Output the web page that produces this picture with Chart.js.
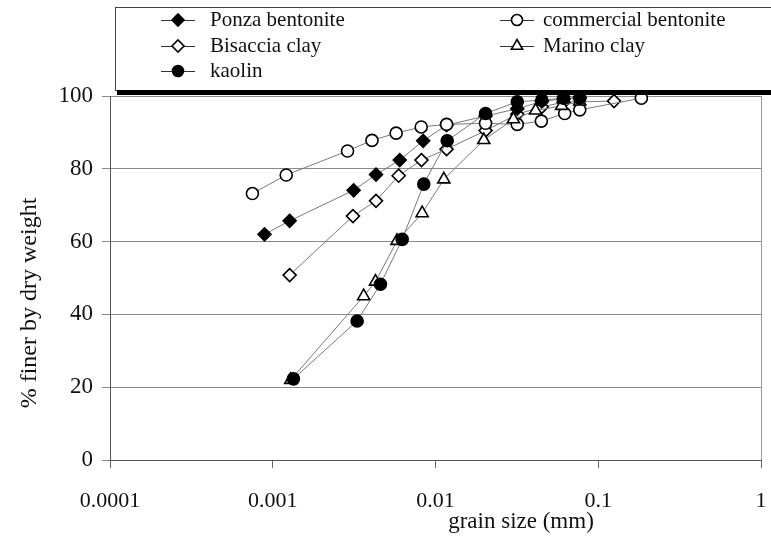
<!DOCTYPE html>
<html>
<head>
<meta charset="utf-8">
<script src="https://cdn.jsdelivr.net/npm/chart.js@4.4.1/dist/chart.umd.min.js"></script>
<style>
  html, body { margin: 0; padding: 0; background: #ffffff; }
  #wrap { width: 771px; height: 542px; }
</style>
</head>
<body>
<div id="wrap"><canvas id="psdChart" width="771" height="542"></canvas></div>
<script>
// grain size distributions (grain size in mm, % finer by dry weight)
const ponzaSize = [0.00089, 0.00127, 0.00314, 0.00431, 0.00603, 0.0084, 0.0117, 0.0203, 0.0318, 0.045, 0.0612, 0.077];
const ponzaFiner = [62.0, 65.7, 74.1, 78.4, 82.4, 87.7, 92.0, 94.5, 96.5, 98.5, 99.2, 99.5];

const commercialSize = [0.00075, 0.00121, 0.00288, 0.00407, 0.00573, 0.00817, 0.0117, 0.0203, 0.0318, 0.0447, 0.0622, 0.077, 0.184];
const commercialFiner = [73.2, 78.3, 84.9, 87.8, 89.8, 91.5, 92.2, 92.5, 92.2, 93.1, 95.2, 96.2, 99.4];

const bisacciaSize = [0.00127, 0.00311, 0.00431, 0.00594, 0.0082, 0.0117, 0.0203, 0.0318, 0.045, 0.0612, 0.125];
const bisacciaFiner = [50.8, 67.0, 71.2, 78.1, 82.4, 85.4, 90.5, 95.0, 97.0, 98.3, 98.6];

const marinoSize = [0.00129, 0.00362, 0.00428, 0.0058, 0.00828, 0.01125, 0.0198, 0.0301, 0.0412, 0.0596, 0.077];
const marinoFiner = [22.0, 45.0, 49.0, 60.2, 67.8, 77.1, 87.9, 93.6, 96.0, 97.3, 98.5];

const kaolinSize = [0.00134, 0.0033, 0.00459, 0.00624, 0.00847, 0.0118, 0.0203, 0.0318, 0.045, 0.0612, 0.077];
const kaolinFiner = [22.3, 38.2, 48.3, 60.6, 75.8, 87.7, 95.2, 98.4, 98.9, 99.4, 99.4];

const xTicks = [0.0001, 0.001, 0.01, 0.1, 1];
const xTickLabels = ["0.0001", "0.001", "0.01", "0.1", "1"];
const yTicks = [0, 20, 40, 60, 80, 100];

const serif = "'Liberation Serif', 'Times New Roman', serif";

function toPoints(xs, ys) {
    return xs.map((x, i) => ({ x: x, y: ys[i] }));
}

function markerRadius(style) {
    if (style === "rectRot") return 6.5;
    if (style === "triangle") return 7;
    return 6;
}

function series(label, xs, ys, style, fill, order) {
    return {
        label: label,
        data: toPoints(xs, ys),
        showLine: true,
        borderColor: "#7a7a7a",
        borderWidth: 1,
        pointStyle: style,
        pointRadius: markerRadius(style),
        pointBackgroundColor: fill,
        pointBorderColor: "#000000",
        pointBorderWidth: 1.6,
        clip: false,
        order: order
    };
}

const datasets = [
    series("Ponza bentonite", ponzaSize, ponzaFiner, "rectRot", "#000000", 4),
    series("commercial bentonite", commercialSize, commercialFiner, "circle", "#ffffff", 3),
    series("Bisaccia clay", bisacciaSize, bisacciaFiner, "rectRot", "#ffffff", 5),
    series("Marino clay", marinoSize, marinoFiner, "triangle", "#ffffff", 2),
    series("kaolin", kaolinSize, kaolinFiner, "circle", "#000000", 1)
];

// legend box above the plot plus the two axis titles
const decorations = {
    id: "decorations",
    afterDraw(chart) {
        const ctx = chart.ctx;
        ctx.save();

        // legend frame with heavy bottom edge
        ctx.fillStyle = "#ffffff";
        ctx.fillRect(115, 7, 660, 83);
        ctx.strokeStyle = "#444444";
        ctx.lineWidth = 1;
        ctx.strokeRect(115.5, 7.5, 660, 83);
        ctx.fillStyle = "#000000";
        ctx.fillRect(117, 90, 660, 5);

        // marker x, row y, text x
        const slots = [
            [178, 20, 210], [517, 20, 543],
            [178, 46, 210], [517, 46, 543],
            [178, 71, 210]
        ];
        ctx.font = "21px " + serif;
        ctx.textBaseline = "middle";
        ctx.textAlign = "left";
        datasets.forEach((ds, i) => {
            const [cx, cy, tx] = slots[i];
            ctx.strokeStyle = "#333333";
            ctx.lineWidth = 1;
            ctx.beginPath();
            ctx.moveTo(cx - 17, cy + 0.5);
            ctx.lineTo(cx + 17, cy + 0.5);
            ctx.stroke();
            ctx.fillStyle = ds.pointBackgroundColor;
            ctx.strokeStyle = "#000000";
            ctx.lineWidth = 1.6;
            Chart.helpers.drawPoint(ctx, {
                pointStyle: ds.pointStyle,
                rotation: 0,
                radius: ds.pointRadius - 0.5,
                borderWidth: 1.6
            }, cx, cy);
            ctx.fillStyle = "#111111";
            ctx.fillText(ds.label, tx, cy);
        });

        // axis titles
        ctx.fillStyle = "#111111";
        ctx.font = "23px " + serif;
        ctx.textAlign = "center";
        ctx.fillText("grain size (mm)", 521, 522);
        ctx.font = "24px " + serif;
        ctx.translate(30, 303);
        ctx.rotate(-Math.PI / 2);
        ctx.fillText("% finer by dry weight", 0, 0);
        ctx.restore();
    },
    beforeDatasetsDraw(chart) {
        // thin frame on the right side of the plot
        const a = chart.chartArea;
        const ctx = chart.ctx;
        ctx.save();
        ctx.strokeStyle = "#9a9a9a";
        ctx.lineWidth = 1;
        ctx.beginPath();
        ctx.moveTo(a.right + 0.5, a.top);
        ctx.lineTo(a.right + 0.5, a.bottom);
        ctx.stroke();
        ctx.restore();
    }
};

const ctx = document.getElementById("psdChart").getContext("2d");

new Chart(ctx, {
    type: "scatter",
    data: { datasets: datasets },
    options: {
        responsive: false,
        animation: false,
        layout: { padding: { top: 96, right: 10, left: 0, bottom: 0 } },
        plugins: {
            legend: { display: false },
            tooltip: { enabled: false }
        },
        scales: {
            x: {
                type: "logarithmic",
                min: 0.0001,
                max: 1,
                afterFit(scale) {
                    scale.height = 82;
                    scale.paddingLeft = 0;
                    scale.paddingRight = 0;
                },
                afterBuildTicks(scale) {
                    scale.ticks = xTicks.map(v => ({ value: v }));
                },
                ticks: {
                    autoSkip: false,
                    maxRotation: 0,
                    minRotation: 0,
                    padding: 20,
                    color: "#111111",
                    font: { family: serif, size: 22 },
                    callback: function(value) {
                        const i = xTicks.findIndex(t => Math.abs(t - value) / t < 1e-6);
                        return i >= 0 ? xTickLabels[i] : "";
                    }
                },
                grid: {
                    drawOnChartArea: false,
                    drawTicks: true,
                    tickLength: 8,
                    color: "#666666"
                },
                border: { color: "#555555", width: 1 }
            },
            y: {
                min: 0,
                max: 100,
                afterFit(scale) {
                    scale.width = 110;
                    scale.paddingTop = 0;
                    scale.paddingBottom = 0;
                },
                afterBuildTicks(scale) {
                    scale.ticks = yTicks.map(v => ({ value: v }));
                },
                ticks: {
                    padding: 9,
                    color: "#111111",
                    font: { family: serif, size: 23 }
                },
                grid: {
                    color: "#8a8a8a",
                    lineWidth: 1,
                    tickLength: 8
                },
                border: { color: "#555555", width: 1 }
            }
        }
    },
    plugins: [decorations]
});
</script>
</body>
</html>
